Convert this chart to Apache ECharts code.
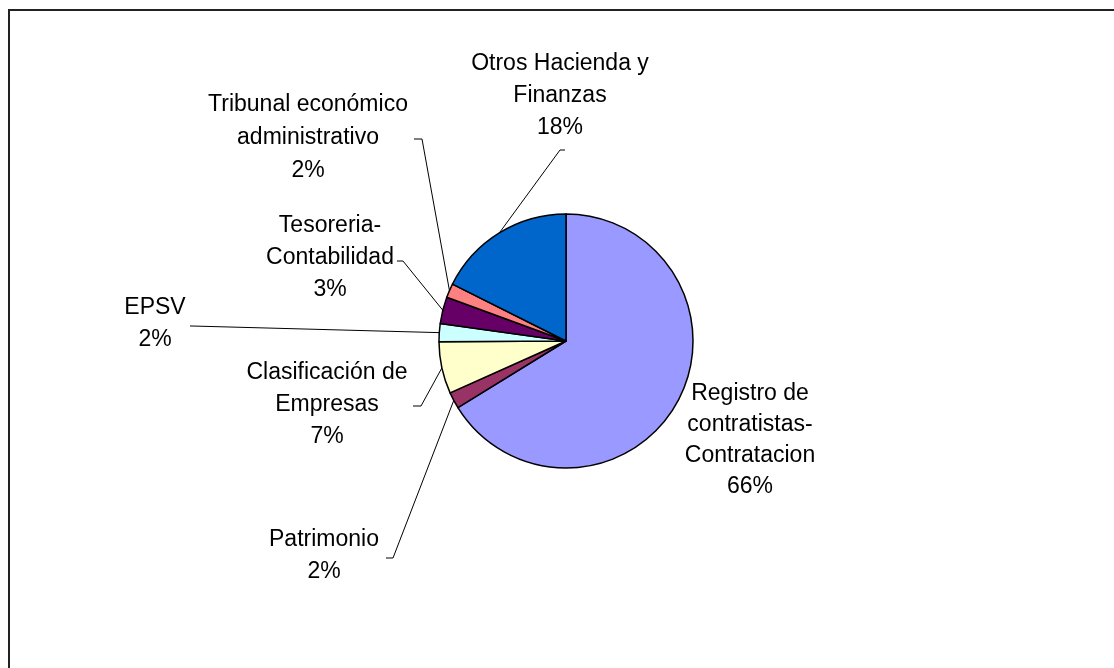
<!DOCTYPE html>
<html>
<head>
<meta charset="utf-8">
<script src="https://cdn.jsdelivr.net/npm/echarts@6/dist/echarts.min.js"></script>
<style>
html,body{margin:0;padding:0;background:#fff;}
#chart{width:1114px;height:668px;}
</style>
</head>
<body>
<div id="chart"></div>
<script>
// Data
var categories = [
  "Registro de\ncontratistas-\nContratacion",
  "Patrimonio",
  "Clasificación de\nEmpresas",
  "EPSV",
  "Tesoreria-\nContabilidad",
  "Tribunal económico\nadministrativo",
  "Otros Hacienda y\nFinanzas"
];
var values = [66.2, 2.1, 6.6, 2.3, 3.4, 1.8, 17.6];
var colors = ["#9999FF", "#993366", "#FFFFCC", "#CCFFFF", "#660066", "#FF8080", "#0066CC"];

// Label layout (centers) and leader-line stubs
var labelPos = [[750, 440], [324, 556], [327, 405], [155, 324], [330, 258], [308, 138], [560, 96]];
var lineHeights = [31, 32, 32, 32, 32, 33, 32];
var stubs = [null, [[393, 558], [386, 558]], [[421, 406], [413, 406]], [[192, 326], [190, 326]], [[403, 261], [397, 261]], [[422, 139], [414, 139]], [[560, 150], [565, 150]]];

var chart = echarts.init(document.getElementById('chart'), null, {renderer: 'canvas'});
var data = categories.map(function (c, i) {
  return {
    name: c, value: values[i],
    itemStyle: {color: colors[i]},
    label: {lineHeight: lineHeights[i]},
    labelLine: {show: i !== 0}
  };
});

chart.setOption({
  animation: false,
  backgroundColor: '#ffffff',
  graphic: [{
    type: 'rect', silent: true,
    shape: {x: 9, y: 10, width: 1300, height: 900},
    style: {fill: 'none', stroke: '#222', lineWidth: 2}
  }],
  series: [{
    type: 'pie',
    center: [566, 341],
    radius: 127,
    startAngle: 90,
    clockwise: true,
    avoidLabelOverlap: false,
    data: data,
    itemStyle: {borderColor: '#000', borderWidth: 1.5},
    label: {
      show: true,
      color: '#000',
      fontFamily: 'Liberation Sans, Arial, sans-serif',
      fontSize: 23,
      lineHeight: 32,
      align: 'center',
      formatter: function (p) { return p.name + '\n' + Math.round(p.percent) + '%'; }
    },
    labelLine: {show: true, length: 10, length2: 10, lineStyle: {color: '#000', width: 1}},
    labelLayout: function (p) {
      var i = p.dataIndex;
      var res = {x: labelPos[i][0], y: labelPos[i][1], align: 'center', verticalAlign: 'middle'};
      if (stubs[i] && p.labelLinePoints) {
        res.labelLinePoints = [p.labelLinePoints[0], stubs[i][0], stubs[i][1]];
      }
      return res;
    },
    emphasis: {disabled: true}
  }]
});
</script>
</body>
</html>
